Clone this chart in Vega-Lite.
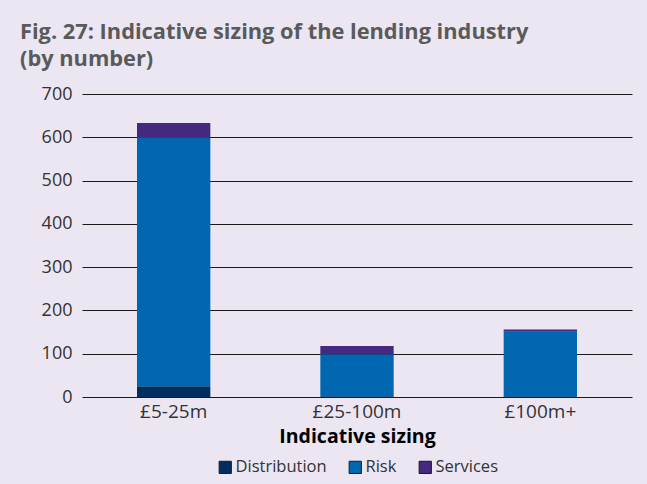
{
  "$schema": "https://vega.github.io/schema/vega-lite/v6.json",
  "autosize": {"type": "none"},
  "width": 550,
  "height": 303,
  "padding": {"left": 82, "top": 94, "right": 15, "bottom": 87},
  "background": "#ebe6f2",
  "title": {
    "text": ["Fig. 27: Indicative sizing of the lending industry", "(by number)"],
    "anchor": "start",
    "frame": "group",
    "dx": -62,
    "offset": 14,
    "font": "Open Sans",
    "fontSize": 21.8,
    "fontWeight": "bold",
    "color": "#5a5a5a",
    "lineHeight": 27
  },
  "data": {
    "values": [
      {"size": "£5-25m", "type": "Distribution", "value": 25, "ord": 1},
      {"size": "£5-25m", "type": "Risk", "value": 575, "ord": 2},
      {"size": "£5-25m", "type": "Services", "value": 33, "ord": 3},
      {"size": "£25-100m", "type": "Distribution", "value": 2, "ord": 1},
      {"size": "£25-100m", "type": "Risk", "value": 97, "ord": 2},
      {"size": "£25-100m", "type": "Services", "value": 19, "ord": 3},
      {"size": "£100m+", "type": "Distribution", "value": 2, "ord": 1},
      {"size": "£100m+", "type": "Risk", "value": 149, "ord": 2},
      {"size": "£100m+", "type": "Services", "value": 5, "ord": 3}
    ]
  },
  "mark": {"type": "bar"},
  "encoding": {
    "x": {
      "field": "size",
      "type": "nominal",
      "sort": ["£5-25m", "£25-100m", "£100m+"],
      "scale": {"paddingInner": 0.6, "paddingOuter": 0.3},
      "axis": {
        "title": "Indicative sizing",
        "titleFont": "Open Sans",
        "titleFontSize": 19.5,
        "titleFontWeight": "bold",
        "titleColor": "#000000",
        "titlePadding": 6,
        "labelAngle": 0,
        "labelFont": "Open Sans",
        "labelFontSize": 19,
        "labelColor": "#333333",
        "labelPadding": 5,
        "ticks": false,
        "domain": false
      }
    },
    "y": {
      "field": "value",
      "type": "quantitative",
      "stack": "zero",
      "scale": {"domain": [0, 700], "nice": false},
      "axis": {
        "title": null,
        "values": [0, 100, 200, 300, 400, 500, 600, 700],
        "grid": true,
        "gridColor": "#1a1a1a",
        "gridOpacity": 1,
        "gridWidth": 1,
        "domain": false,
        "ticks": false,
        "labelFont": "Open Sans",
        "labelFontSize": 18,
        "labelColor": "#333333",
        "labelPadding": 10
      }
    },
    "color": {
      "field": "type",
      "type": "nominal",
      "scale": {
        "domain": ["Distribution", "Risk", "Services"],
        "range": ["#002f5f", "#0066b0", "#45287f"]
      },
      "legend": {
        "title": null,
        "orient": "bottom",
        "direction": "horizontal",
        "symbolType": "square",
        "symbolSize": 150,
        "symbolStrokeColor": "#1a1a1a",
        "symbolStrokeWidth": 1,
        "symbolOpacity": 1,
        "labelFont": "Open Sans",
        "labelFontSize": 16.5,
        "labelColor": "#333333",
        "labelOffset": 2,
        "columnPadding": 20,
        "offset": 13
      }
    },
    "order": {"field": "ord", "type": "quantitative"}
  },
  "config": {
    "view": {"stroke": null},
    "legend": {"layout": {"bottom": {"anchor": "middle"}}}
  }
}
